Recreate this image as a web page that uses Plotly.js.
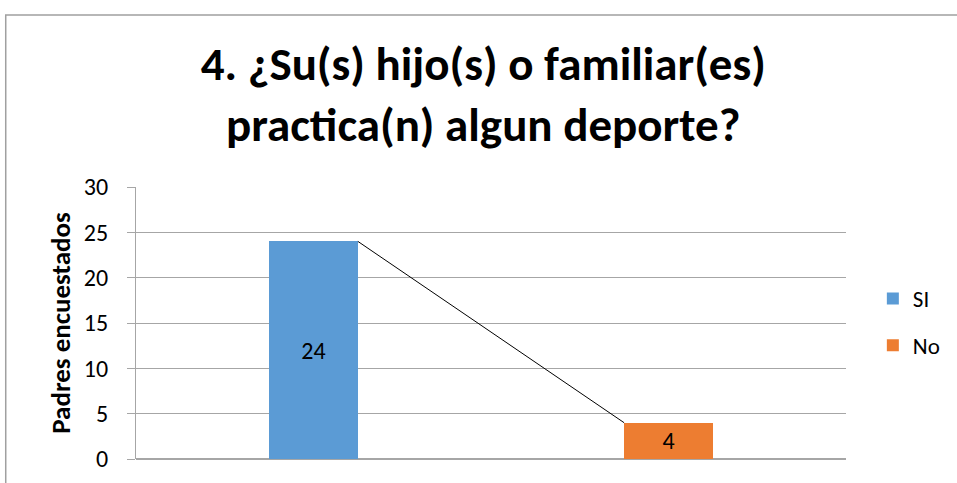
<!DOCTYPE html>
<html>
<head>
<meta charset="utf-8">
<script src="https://cdn.plot.ly/plotly-3.0.1.min.js"></script>
<style>
html,body{margin:0;padding:0;background:#fff;}
#chart{width:957px;height:483px;}
</style>
</head>
<body>
<div id="chart"></div>
<script>
var categories = ["SI", "No"];
var values = [24, 4];
var colors = ["#5B9BD5", "#ED7D31"];
var yTickVals = [0, 5, 10, 15, 20, 25, 30];
var titleLines = ["4. ¿Su(s) hijo(s) o familiar(es)", "practica(n) algun deporte?"];
var yTitle = "Padres encuestados";

var FONT = "Carlito, Calibri, Lato, 'Open Sans', sans-serif";
var barWidth = 0.25;

var traces = categories.map(function (c, i) {
  return {
    type: "bar",
    x: [i],
    y: [values[i]],
    width: barWidth,
    name: c,
    legendgroup: c,
    marker: { color: colors[i] },
    text: [String(values[i])],
    textposition: "inside",
    insidetextanchor: "middle",
    textangle: 0,
    constraintext: "none",
    textfont: { family: FONT, size: 24, color: "#000000" },
    hoverinfo: "skip"
  };
});

// series line connecting bar tops (right edge of first to left edge of second)
traces.push({
  type: "scatter",
  mode: "lines",
  x: [0 + barWidth / 2, 1 - barWidth / 2],
  y: [values[0], values[1]],
  line: { color: "#000000", width: 1 },
  showlegend: false,
  hoverinfo: "skip"
});

var L = 136, R = 107, T = 187, B = 24;
var pw = 957 - L - R, ph = 483 - T - B;
function px2x(p) { return (p - L) / pw; }
function py2y(p) { return (483 - B - p) / ph; }

var layout = {
  width: 957,
  height: 483,
  margin: { l: L, r: R, t: T, b: B, pad: 0 },
  paper_bgcolor: "#ffffff",
  plot_bgcolor: "#ffffff",
  font: { family: FONT, color: "#404040" },
  title: {
    text: titleLines.join("<br>"),
    font: { family: FONT, size: 47, color: "#000000", weight: "bold" },
    xref: "container", x: 0.505, xanchor: "center",
    yref: "container", y: 1 - 80 / 483, yanchor: "top"
  },
  barmode: "overlay",
  bargap: 0,
  xaxis: {
    range: [-0.5, 1.5],
    showticklabels: false,
    showgrid: false,
    zeroline: false,
    showline: false,
    ticks: "",
    fixedrange: true
  },
  yaxis: {
    range: [0, 30],
    tickvals: yTickVals,
    ticktext: yTickVals.map(String),
    tickfont: { family: FONT, size: 24, color: "#000000" },
    showgrid: true,
    gridcolor: "#a6a6a6",
    gridwidth: 1,
    zeroline: true,
    zerolinecolor: "#a6a6a6",
    zerolinewidth: 2,
    showline: true,
    linecolor: "#a6a6a6",
    linewidth: 1,
    ticks: "outside",
    ticklen: 8,
    tickcolor: "#a6a6a6",
    ticklabelstandoff: 14,
    title: {
      text: yTitle,
      font: { family: FONT, size: 27, color: "#000000", weight: "bold" },
      standoff: 5
    },
    fixedrange: true
  },
  showlegend: true,
  legend: {
    x: px2x(877), xanchor: "left",
    y: py2y(277), yanchor: "top",
    font: { family: FONT, size: 23, color: "#000000" },
    traceorder: "grouped",
    tracegroupgap: 14,
    itemwidth: 30,
    bgcolor: "rgba(0,0,0,0)"
  },
  shapes: [{
    type: "rect",
    xref: "paper", yref: "paper",
    x0: px2x(5), x1: px2x(990),
    y0: py2y(520), y1: py2y(15),
    line: { color: "#a0a0a0", width: 1.5 },
    fillcolor: "rgba(0,0,0,0)",
    layer: "below"
  }]
};

Plotly.newPlot("chart", traces, layout, { displayModeBar: false, staticPlot: true });
</script>
</body>
</html>
